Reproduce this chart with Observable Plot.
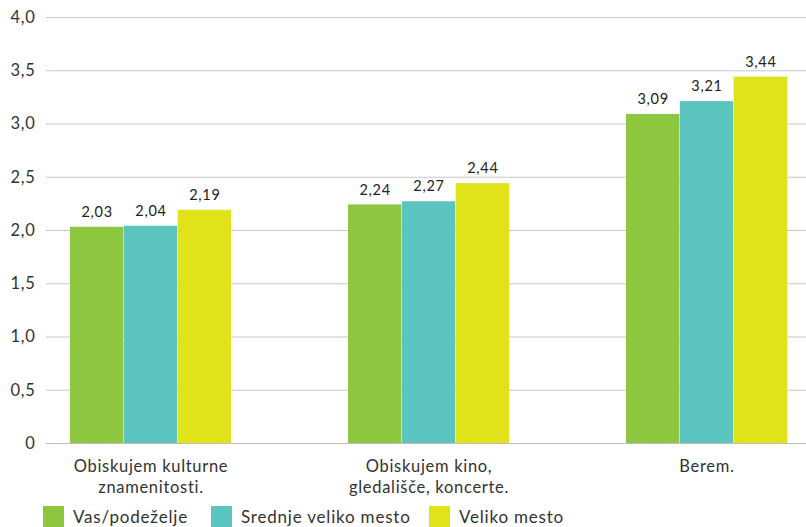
<!DOCTYPE html>
<html>
<head>
<meta charset="utf-8">
<script src="https://cdn.jsdelivr.net/npm/d3@7"></script>
<script src="https://cdn.jsdelivr.net/npm/@observablehq/plot@0.6"></script>
<style>
  html, body { margin: 0; padding: 0; background: #fff; }
  body { width: 806px; height: 527px; overflow: hidden; font-family: Lato, "Open Sans", sans-serif; }
  #legend { position: relative; height: 27px; }
  .item { position: absolute; top: 6px; display: flex; align-items: center; font-size: 17px; letter-spacing: 0.8px; color: #333; }
  .sw { width: 21px; height: 21px; margin-right: 9px; }
</style>
</head>
<body>
<div id="chart"></div>
<div id="legend"></div>
<script>
const categories = ["Obiskujem kulturne\nznamenitosti.", "Obiskujem kino,\ngledališče, koncerte.", "Berem."];
const seriesNames = ["Vas/podeželje", "Srednje veliko mesto", "Veliko mesto"];
const vasValues = [2.03, 2.24, 3.09];
const srednjeValues = [2.04, 2.27, 3.21];
const velikoValues = [2.19, 2.44, 3.44];
const colors = ["#8dc63f", "#5bc4bf", "#e1e31a"];
const yTicks = [0, 0.5, 1, 1.5, 2, 2.5, 3, 3.5, 4];

const seriesValues = [vasValues, srednjeValues, velikoValues];
const data = seriesValues.map((vals, s) =>
  categories.map((c, i) => ({category: c, series: seriesNames[s], value: vals[i], s}))
);

const bw = 161.5;
const third = bw / 3;
const fmt = v => v.toFixed(2).replace(".", ",");

const marks = [
  Plot.ruleY(yTicks.filter(d => d > 0), {stroke: "#c8c8c8", strokeWidth: 1.2})
];
data.forEach((rows, s) => {
  marks.push(Plot.barY(rows, {
    x: "category", y: "value", fill: colors[s],
    insetLeft: s * third, insetRight: (2 - s) * third
  }));
  marks.push(Plot.text(rows, {
    x: "category", y: "value", text: d => fmt(d.value),
    dx: (s - 1) * third, dy: -15, fontSize: 14.5, fill: "#222"
  }));
});
marks.push(Plot.ruleY([0], {stroke: "#bdbdbd", strokeWidth: 1.2}));
marks.push(Plot.axisY({ticks: yTicks, tickSize: 0, tickPadding: 11, fontSize: 16.5, fill: "#333",
  tickFormat: d => d === 0 ? "0" : d.toFixed(1).replace(".", ",")}));
marks.push(Plot.axisX({tickSize: 0, tickPadding: 14, fontSize: 16.5, fill: "#333", lineHeight: 1.25}));

const chart = Plot.plot({
  width: 806,
  height: 500,
  marginTop: 17,
  marginBottom: 57,
  marginLeft: 46,
  marginRight: 0,
  style: {fontFamily: "Lato, 'Open Sans', sans-serif", background: "#fff", letterSpacing: "0.7px"},
  x: {domain: categories, range: [11.25, 846.75], paddingInner: 0.42, paddingOuter: 0.21, label: null},
  y: {domain: [0, 4], label: null},
  marks
});
document.getElementById("chart").appendChild(chart);

const legend = document.getElementById("legend");
const lefts = [43, 211, 429];
seriesNames.forEach((n, i) => {
  const it = document.createElement("div");
  it.className = "item";
  it.style.left = lefts[i] + "px";
  it.innerHTML = `<div class="sw" style="background:${colors[i]}"></div><span>${n}</span>`;
  legend.appendChild(it);
});
</script>
</body>
</html>
